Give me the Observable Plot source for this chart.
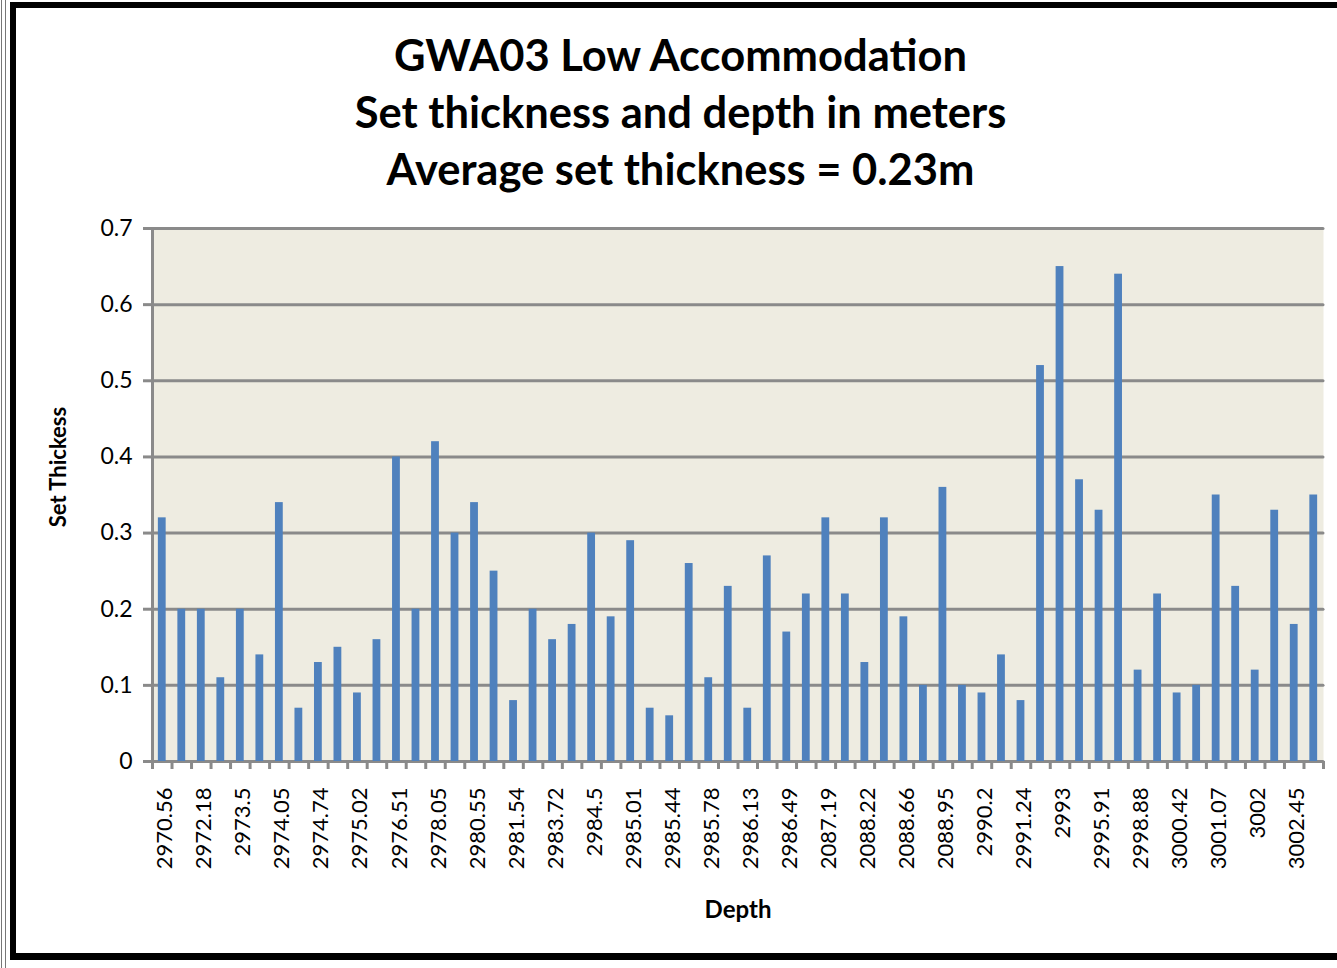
<!DOCTYPE html>
<html><head><meta charset="utf-8">
<script src="https://cdn.jsdelivr.net/npm/d3@7"></script>
<script src="https://cdn.jsdelivr.net/npm/@observablehq/plot@0.6"></script>
<style>
body{margin:0;background:#fff;font-family:Lato,sans-serif;}
#wrap{position:relative;width:1337px;height:968px;overflow:hidden;background:#fff;}
.frame{position:absolute;left:10px;top:2px;width:1400px;height:945px;border:6px solid #000;border-bottom-width:7px;}
.thin{position:absolute;top:0;bottom:0;width:1px;background:#777;}
#title{position:absolute;left:24px;top:26px;width:1313px;text-align:center;font-weight:700;font-size:43.5px;line-height:57px;color:#000;}
#chart{position:absolute;left:0;top:198px;}
</style></head>
<body>
<div id="wrap">
  <div class="thin" style="left:1px"></div>
  <div class="thin" style="left:5px"></div>
  <div class="frame"></div>
  <div id="title"><div>GWA03 Low Accommodation</div><div>Set thickness and depth in meters</div><div>Average set thickness = 0.23m</div></div>
  <div id="chart"></div>
</div>
<script>
const tickLabels = ["2970.56","2972.18","2973.5","2974.05","2974.74","2975.02","2976.51","2978.05","2980.55","2981.54","2983.72","2984.5","2985.01","2985.44","2985.78","2986.13","2986.49","2087.19","2088.22","2088.66","2088.95","2990.2","2991.24","2993","2995.91","2998.88","3000.42","3001.07","3002","3002.45"];
const thickness = [0.32,0.2,0.2,0.11,0.2,0.14,0.34,0.07,0.13,0.15,
                   0.09,0.16,0.4,0.2,0.42,0.3,0.34,0.25,0.08,0.2,
                   0.16,0.18,0.3,0.19,0.29,0.07,0.06,0.26,0.11,0.23,
                   0.07,0.27,0.17,0.22,0.32,0.22,0.13,0.32,0.19,0.1,
                   0.36,0.1,0.09,0.14,0.08,0.52,0.65,0.37,0.33,0.64,
                   0.12,0.22,0.09,0.1,0.35,0.23,0.12,0.33,0.18,0.35];
const yTicks = [0,0.1,0.2,0.3,0.4,0.5,0.6,0.7];
const yTickLabels = ["0","0.1","0.2","0.3","0.4","0.5","0.6","0.7"];
const xTitle = "Depth";
const yTitle = "Set Thickess";

const n = thickness.length;
const idx = d3.range(n);
const data = thickness.map((v, i) => ({i, v}));
const W = 1337, H = 762, mL = 152, mR = 14, mT = 30, mB = 199;
const step = (W - mL - mR) / n;
const gray = "#8a8a8a";

const plot = Plot.plot({
  width: W, height: H,
  marginLeft: mL, marginRight: mR, marginTop: mT, marginBottom: mB,
  x: {type: "band", domain: idx, paddingInner: 0.6, paddingOuter: 0.3},
  y: {domain: [0, 0.7]},
  style: {fontFamily: "Lato, sans-serif", color: "#000", background: "transparent", overflow: "visible"},
  marks: [
    Plot.frame({fill: "#eeece1", stroke: null}),
    Plot.ruleY(yTicks, {stroke: gray, strokeWidth: 3, strokeLinecap: "round"}),
    Plot.barY(data, {x: "i", y: "v", fill: "#4f81bd", inset: 0}),
    Plot.frame({anchor: "left", stroke: gray, strokeWidth: 3}),
    Plot.axisY({ticks: yTicks, tickSize: 9, tickPadding: 11, stroke: gray, strokeWidth: 3, fontSize: 23,
      tickFormat: d => yTickLabels[yTicks.indexOf(d)], label: null}),
    Plot.axisX({ticks: idx, tickSize: 8, fill: "none", dx: -step / 2, stroke: gray, strokeWidth: 3, label: null}),
    Plot.axisX({ticks: [n - 1], tickSize: 8, fill: "none", dx: step / 2, stroke: gray, strokeWidth: 3, label: null}),
    Plot.axisX({ticks: idx.filter(i => i % 2 === 0), tickSize: 0, tickPadding: 26, tickRotate: -90, dx: 3,
      fontSize: 22, tickFormat: i => tickLabels[i / 2], label: null}),
    Plot.text([xTitle], {frameAnchor: "bottom", dy: 149, fontWeight: "bold", fontSize: 24, lineAnchor: "middle"}),
    Plot.text([yTitle], {frameAnchor: "left", dx: -94, dy: -28, rotate: -90, textAnchor: "middle", fontWeight: "bold", fontSize: 22, lineAnchor: "middle"})
  ]
});
document.getElementById("chart").appendChild(plot);
</script>
</body></html>
